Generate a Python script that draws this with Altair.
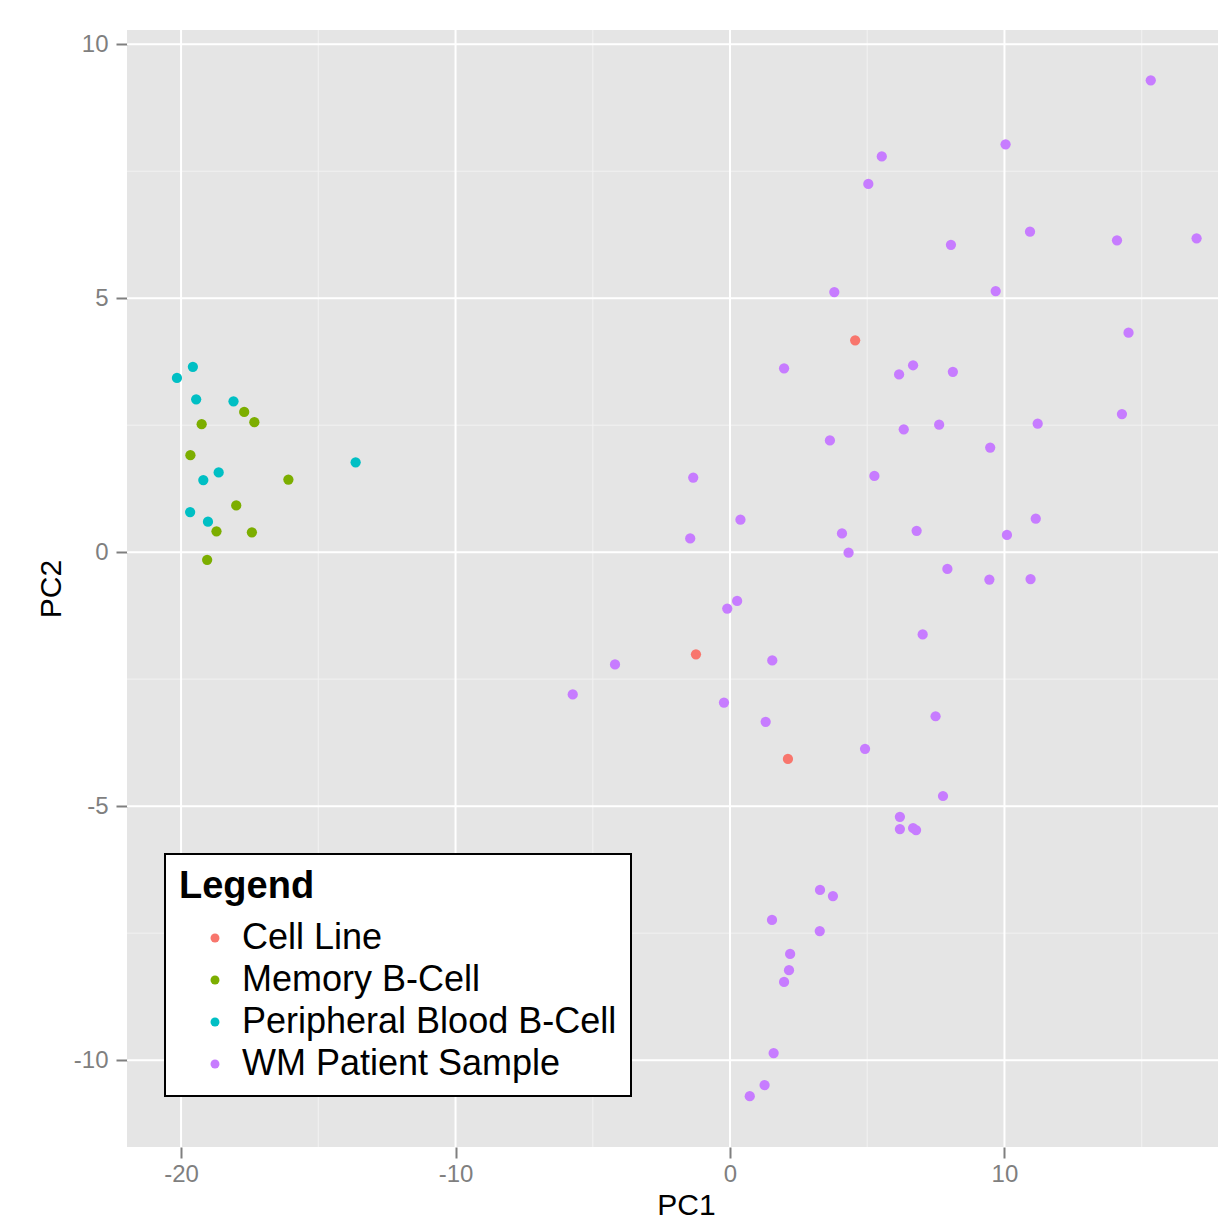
import altair as alt
import pandas as pd

# ---- data ----
groups = ["Cell Line", "Memory B-Cell", "Peripheral Blood B-Cell", "WM Patient Sample"]
group_colors = ["#F8766D", "#7CAE00", "#00BFC4", "#C77CFF"]

cell_x = [4.56, -1.24, 2.11]
cell_y = [4.17, -2.01, -4.07]

memory_x = [-19.25, -17.70, -17.33, -19.66, -16.09, -17.99, -18.71, -17.42, -19.05]
memory_y = [2.52, 2.76, 2.56, 1.91, 1.43, 0.92, 0.41, 0.39, -0.15]

blood_x = [-19.57, -20.15, -19.45, -18.09, -18.63, -19.19, -13.64, -19.67, -19.02]
blood_y = [3.65, 3.43, 3.01, 2.97, 1.57, 1.42, 1.77, 0.79, 0.60]

wm_x = [15.33, 10.04, 5.53, 5.04, 8.05, 10.93, 14.10, 17.00, 3.80, 9.68,
        14.52, 1.97, 6.16, 6.67, 8.12, 14.28, 6.33, 7.62, 11.21, 3.64,
        9.48, 5.26, -1.34, 0.38, 11.14, -1.45, 4.08, 6.80, 10.09, 4.32,
        7.92, 9.45, 10.95, 0.26, -0.10, 7.02, -4.19, 1.54, -5.73, -0.22,
        1.30, 7.49, 4.92, 7.76, 6.19, 6.19, 6.67, 6.78, 3.28, 3.75,
        1.53, 3.27, 2.19, 2.15, 1.97, 1.59, 1.26, 0.72]
wm_y = [9.29, 8.03, 7.79, 7.25, 6.05, 6.31, 6.14, 6.18, 5.12, 5.14,
        4.32, 3.62, 3.50, 3.68, 3.55, 2.72, 2.42, 2.51, 2.53, 2.20,
        2.06, 1.50, 1.47, 0.64, 0.66, 0.27, 0.37, 0.42, 0.34, -0.01,
        -0.33, -0.54, -0.53, -0.96, -1.11, -1.62, -2.21, -2.13, -2.80, -2.96,
        -3.34, -3.23, -3.87, -4.80, -5.21, -5.45, -5.43, -5.47, -6.65, -6.77,
        -7.24, -7.46, -7.91, -8.23, -8.46, -9.86, -10.49, -10.71]

x_major = [-20, -10, 0, 10]
x_minor = [-15, -5, 5, 15]
y_major = [-10, -5, 0, 5, 10]
y_minor = [-7.5, -2.5, 2.5, 7.5]

x_domain = [-21.97, 17.78]
y_domain = [-11.71, 10.28]

rows = []
for name, xs, ys in [(groups[0], cell_x, cell_y), (groups[1], memory_x, memory_y),
                     (groups[2], blood_x, blood_y), (groups[3], wm_x, wm_y)]:
    for a, b in zip(xs, ys):
        rows.append({"PC1": a, "PC2": b, "group": name})
df = pd.DataFrame(rows)

FONT = "Liberation Sans"

xs = alt.Scale(domain=x_domain, nice=False, zero=False)
ys = alt.Scale(domain=y_domain, nice=False, zero=False)

minor_x = alt.Chart(pd.DataFrame({"PC1": x_minor})).mark_rule(color="#F2F2F2", strokeWidth=1).encode(
    x=alt.X("PC1:Q", scale=xs))
minor_y = alt.Chart(pd.DataFrame({"PC2": y_minor})).mark_rule(color="#F2F2F2", strokeWidth=1).encode(
    y=alt.Y("PC2:Q", scale=ys))
major_x = alt.Chart(pd.DataFrame({"PC1": x_major})).mark_rule(color="white", strokeWidth=2).encode(
    x=alt.X("PC1:Q", scale=xs))
major_y = alt.Chart(pd.DataFrame({"PC2": y_major})).mark_rule(color="white", strokeWidth=2).encode(
    y=alt.Y("PC2:Q", scale=ys))

points = alt.Chart(df).mark_circle(size=105, opacity=1).encode(
    x=alt.X("PC1:Q", scale=xs, title="PC1",
            axis=alt.Axis(values=x_major, grid=False, domain=False, tickColor="#7F7F7F",
                          tickWidth=2, tickSize=11, labelColor="#7F7F7F", labelFontSize=24,
                          labelExpr="'' + datum.value",
                          labelPadding=4, titleFontSize=30, titleColor="black",
                          titleFontWeight="normal", titlePadding=4, titleX=559, labelFlush=False)),
    y=alt.Y("PC2:Q", scale=ys, title="PC2",
            axis=alt.Axis(values=y_major, grid=False, domain=False, tickColor="#7F7F7F",
                          tickWidth=2, tickSize=11, labelColor="#7F7F7F", labelFontSize=24,
                          labelExpr="'' + datum.value",
                          labelPadding=8, titleFontSize=30, titleColor="black",
                          titleFontWeight="normal", titlePadding=7, labelFlush=False)),
    color=alt.Color("group:N", scale=alt.Scale(domain=groups, range=group_colors),
                    legend=alt.Legend(title="Legend", orient="none", legendX=38, legendY=824,
                                      fillColor="white", strokeColor="black",
                                      padding=14, cornerRadius=0,
                                      titleFontSize=38, titleFontWeight="bold", titleColor="black",
                                      titlePadding=14,
                                      labelFontSize=36, labelColor="black", labelOffset=9,
                                      labelLimit=0,
                                      symbolType="circle", symbolSize=80, symbolStrokeWidth=0,
                                      symbolOffset=18, rowPadding=6)),
)

chart = alt.layer(minor_x, minor_y, major_x, major_y, points).properties(
    width=1091, height=1117,
    autosize=alt.AutoSizeParams(type="none"),
    padding={"left": 119, "top": 22, "right": 0, "bottom": 74},
).configure(font=FONT).configure_view(fill="#E5E5E5", strokeWidth=0).configure_legend(strokeWidth=2)

chart.save("out.html", embed_options={"renderer": "svg", "actions": False})
